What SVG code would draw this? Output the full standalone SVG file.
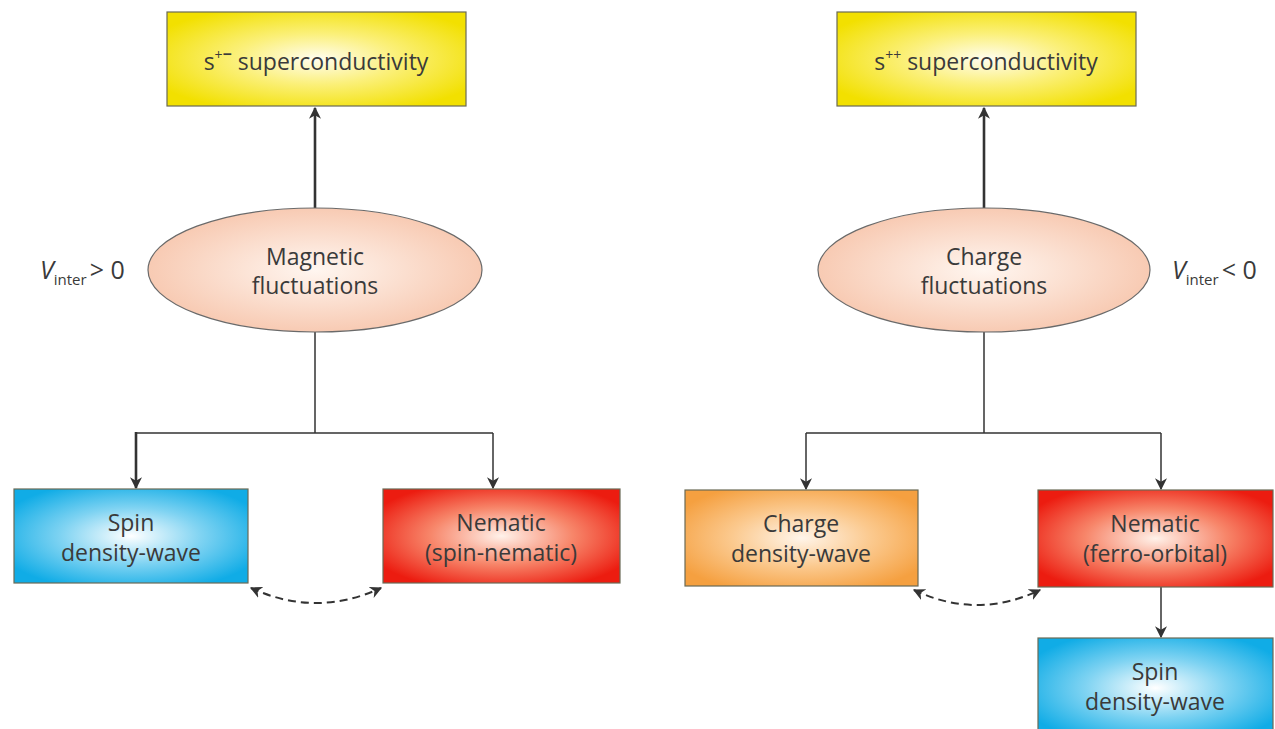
<svg xmlns="http://www.w3.org/2000/svg" width="1275" height="729" viewBox="0 0 1275 729">
<defs>
<radialGradient id="gYellow" cx="50%" cy="50%" r="60%"><stop offset="0" stop-color="#fffdf0"/><stop offset="0.45" stop-color="#fbf07a"/><stop offset="1" stop-color="#f2e000"/></radialGradient>
<radialGradient id="gBlue" cx="50%" cy="50%" r="60%"><stop offset="0" stop-color="#ffffff"/><stop offset="0.5" stop-color="#7fd3f2"/><stop offset="1" stop-color="#10ace6"/></radialGradient>
<radialGradient id="gRed" cx="50%" cy="50%" r="60%"><stop offset="0" stop-color="#fff2ea"/><stop offset="0.5" stop-color="#f7866a"/><stop offset="1" stop-color="#ec1c10"/></radialGradient>
<radialGradient id="gOrange" cx="50%" cy="50%" r="60%"><stop offset="0" stop-color="#fff5ea"/><stop offset="0.5" stop-color="#fbc98e"/><stop offset="1" stop-color="#f5a040"/></radialGradient>
<radialGradient id="gPeach" cx="50%" cy="50%" r="55%"><stop offset="0" stop-color="#fff6f0"/><stop offset="1" stop-color="#f7c6ad"/></radialGradient>
<marker id="ahBig" viewBox="0 0 10 10" refX="9" refY="5" markerWidth="12" markerHeight="12" orient="auto" markerUnits="userSpaceOnUse"><path d="M0,0 L10,5 L0,10 L3,5 Z" fill="#333"/></marker>
<marker id="ahS" viewBox="0 0 10 10" refX="9" refY="5" markerWidth="12" markerHeight="12" orient="auto-start-reverse" markerUnits="userSpaceOnUse"><path d="M0,0 L10,5 L0,10 L3,5 Z" fill="#333"/></marker>
</defs>
<style>
.box{stroke:#6a6a55;stroke-width:1.2}
.ell{stroke:#6a6a6a;stroke-width:1.2;fill:url(#gPeach)}
text{font-family:"Open Sans","Noto Sans","Liberation Sans",sans-serif;fill:#3a3a3a;font-size:23px;text-anchor:middle}
.lbl{text-anchor:start;font-size:25px}
.sub{font-size:15px}
.ln{stroke:#333;stroke-width:1.5;fill:none}
.thick{stroke:#333;stroke-width:2.6;fill:none}
.dash{stroke:#333;stroke-width:2;fill:none;stroke-dasharray:8 5}
</style>
<rect width="1275" height="729" fill="#fff"/>

<g id="connectors">
<line class="thick" x1="315" y1="208" x2="315" y2="108" marker-end="url(#ahBig)"/>
<line class="thick" x1="984" y1="208" x2="984" y2="108" marker-end="url(#ahBig)"/>
<path class="ln" d="M315,332 V433 M136,433 H493"/>
<line class="thick" x1="136" y1="432" x2="136" y2="488" stroke-width="2" marker-end="url(#ahBig)"/>
<line class="ln" x1="493" y1="433" x2="493" y2="488" marker-end="url(#ahBig)"/>
<path class="ln" d="M984,332 V433 M806,433 H1161"/>
<line class="ln" x1="806" y1="433" x2="806" y2="489" marker-end="url(#ahBig)"/>
<line class="ln" x1="1161" y1="433" x2="1161" y2="489" marker-end="url(#ahBig)"/>
<line class="ln" x1="1161" y1="587" x2="1161" y2="637" marker-end="url(#ahBig)"/>
<path class="dash" d="M251,588 Q316,618 381,588" marker-start="url(#ahS)" marker-end="url(#ahS)"/>
<path class="dash" d="M914,590 Q977,620 1040,590" marker-start="url(#ahS)" marker-end="url(#ahS)"/>
</g>

<g id="node-spm">
<rect class="box" x="167" y="12" width="299" height="94" fill="url(#gYellow)"/>
<text x="316" y="70">s<tspan dy="-10" font-size="14">+</tspan><tspan font-weight="bold" font-size="16">−</tspan><tspan dy="10"> superconductivity</tspan></text>
</g>
<g id="node-spp">
<rect class="box" x="837" y="12" width="299" height="94" fill="url(#gYellow)"/>
<text x="986" y="70">s<tspan dy="-10" font-size="14">++</tspan><tspan dy="10"> superconductivity</tspan></text>
</g>

<g id="node-magnetic">
<ellipse class="ell" cx="315" cy="270" rx="167" ry="62"/>
<text x="315" y="265">Magnetic</text>
<text x="315" y="294">fluctuations</text>
</g>
<g id="label-vpos">
<text class="lbl" x="40" y="279"><tspan font-style="italic">V</tspan><tspan class="sub" dy="6">inter</tspan><tspan dy="-6" dx="3">&gt; 0</tspan></text>
</g>
<g id="node-charge">
<ellipse class="ell" cx="984" cy="270" rx="166" ry="62"/>
<text x="984" y="265">Charge</text>
<text x="984" y="294">fluctuations</text>
</g>
<g id="label-vneg">
<text class="lbl" x="1172" y="279"><tspan font-style="italic">V</tspan><tspan class="sub" dy="6">inter</tspan><tspan dy="-6" dx="3">&lt; 0</tspan></text>
</g>

<g id="node-sdw1">
<rect class="box" x="14" y="489" width="234" height="94" fill="url(#gBlue)"/>
<text x="131" y="531">Spin</text>
<text x="131" y="561">density-wave</text>
</g>
<g id="node-nem1">
<rect class="box" x="383" y="489" width="237" height="94" fill="url(#gRed)"/>
<text x="501" y="531">Nematic</text>
<text x="501" y="561">(spin-nematic)</text>
</g>
<g id="node-cdw">
<rect class="box" x="685" y="490" width="233" height="96" fill="url(#gOrange)"/>
<text x="801" y="532">Charge</text>
<text x="801" y="562">density-wave</text>
</g>
<g id="node-nem2">
<rect class="box" x="1038" y="490" width="235" height="97" fill="url(#gRed)"/>
<text x="1155" y="532">Nematic</text>
<text x="1155" y="562">(ferro-orbital)</text>
</g>
<g id="node-sdw2">
<rect class="box" x="1038" y="638" width="235" height="100" fill="url(#gBlue)"/>
<text x="1155" y="680">Spin</text>
<text x="1155" y="710">density-wave</text>
</g>
</svg>
